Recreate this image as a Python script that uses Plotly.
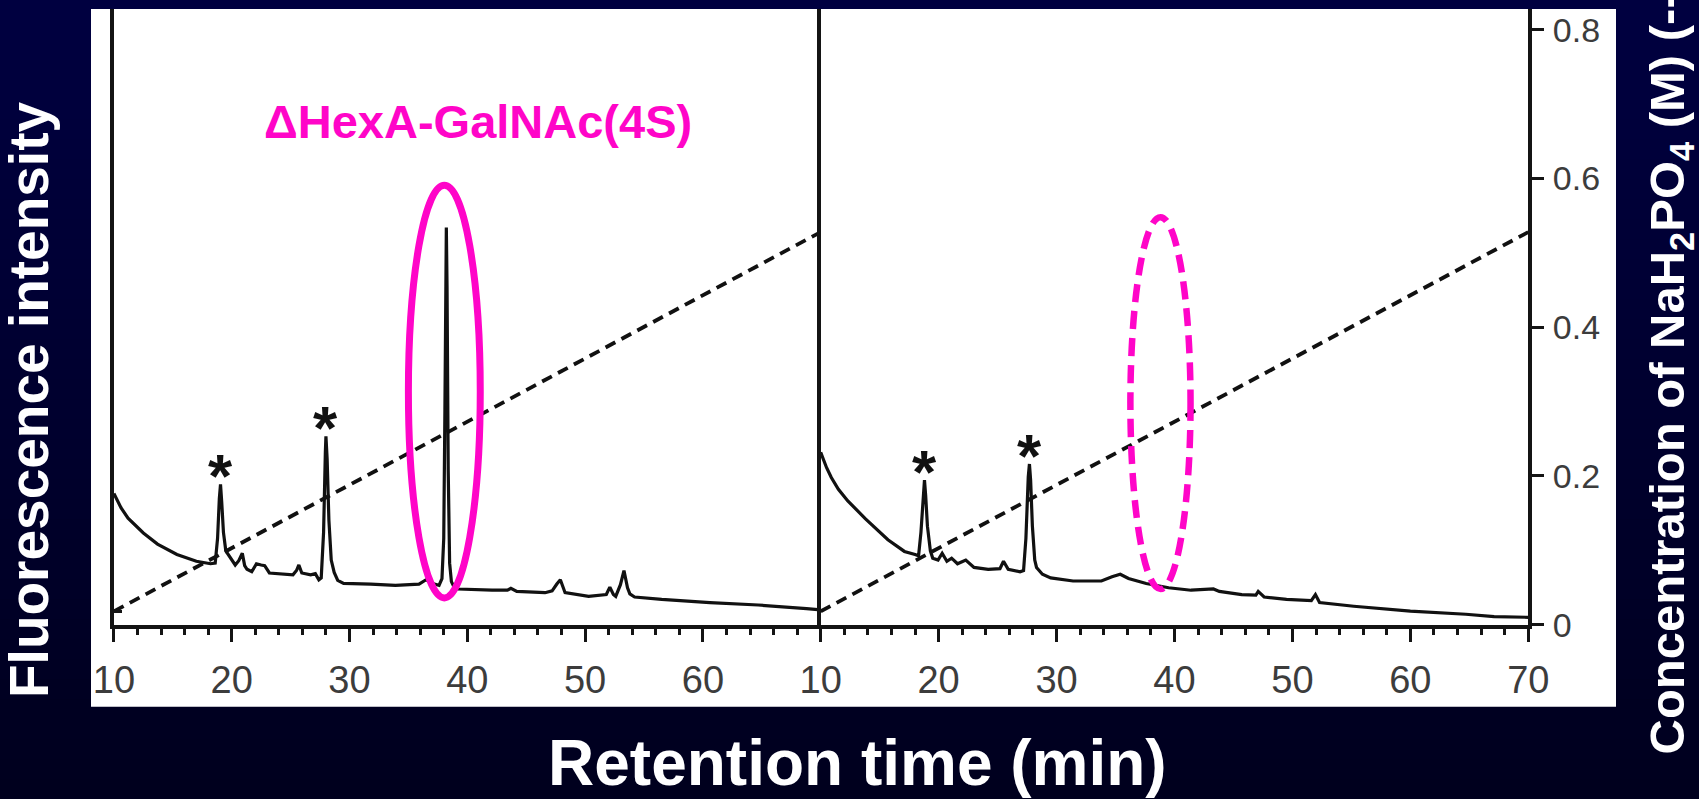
import plotly.graph_objects as go

# ---- chromatogram data: retention time (min) vs fluorescence (a.u.) ----
left_time = [10.0, 10.6, 11.2, 12.5, 13.7, 15.35, 17.0, 18.2, 18.6, 18.8, 18.95, 19.05,
             19.15, 19.3, 19.5, 19.9, 20.3, 20.6, 20.9, 21.1, 21.3, 21.7, 22.1, 22.5,
             22.8, 23.2, 24.4, 25.2, 25.5, 25.7, 25.95, 26.7, 27.1, 27.4, 27.6, 27.8,
             27.95, 28.0, 28.1, 28.25, 28.45, 28.7, 29.0, 29.5, 31.8, 33.9, 35.9, 36.5,
             37.2, 37.6, 37.85, 38.0, 38.1, 38.18, 38.22, 38.28, 38.38, 38.5, 38.65,
             38.9, 39.2, 42.1, 43.4, 43.7, 44.2, 46.6, 47.2, 47.6, 47.9, 48.3, 50.3,
             51.8, 52.1, 52.4, 52.6, 53.0, 53.3, 53.6, 53.8, 54.2, 56.5, 60.6, 64.7,
             68.8, 70.0]
left_signal = [21.3, 19.0, 17.3, 14.9, 13.1, 11.4, 10.3, 9.9, 10.0, 14.0, 20.5, 22.8,
               20.0, 15.0, 12.0, 10.8, 9.7, 10.4, 11.6, 9.6, 9.0, 8.6, 9.9, 9.7,
               9.6, 8.4, 8.2, 8.1, 8.8, 9.7, 8.4, 8.1, 8.3, 7.3, 7.6, 15.0,
               28.0, 30.6, 27.0, 17.0, 10.5, 8.5, 7.2, 6.7, 6.6, 6.4, 6.6, 7.3,
               6.6, 6.4, 7.5, 14.0, 35.0, 60.0, 64.5, 55.0, 25.0, 10.0, 7.0,
               6.0, 5.8, 5.6, 5.6, 5.9, 5.4, 5.2, 5.5, 6.6, 7.3, 5.2, 4.6,
               4.9, 6.1, 4.9, 4.6, 6.5, 8.8, 6.0, 5.0, 4.5, 4.1, 3.6, 3.2,
               2.6, 2.4]

right_time = [10.0, 10.5, 10.9, 11.5, 12.3, 13.8, 15.7, 17.1, 18.0, 18.3, 18.5, 18.7,
              18.8, 18.9, 19.05, 19.3, 19.5, 19.95, 20.3, 20.7, 21.1, 21.6, 22.3, 23.0,
              24.2, 25.2, 25.5, 25.9, 26.9, 27.2, 27.4, 27.6, 27.7, 27.8, 27.95, 28.15,
              28.3, 28.8, 29.5, 31.4, 33.8, 34.7, 35.4, 36.1, 37.6, 39.5, 41.4, 43.3,
              43.8, 45.7, 46.9, 47.1, 47.6, 49.5, 51.6, 51.95, 52.3, 55.2, 60.0, 64.7,
              67.1, 70.0]
right_signal = [28.0, 25.5, 23.9, 22.0, 20.1, 17.2, 13.8, 11.9, 11.4, 11.2, 15.0, 21.5,
                23.5, 21.0, 16.0, 12.0, 10.8, 10.5, 11.6, 10.3, 10.8, 9.9, 10.5, 9.3,
                9.0, 9.1, 10.3, 9.0, 8.6, 8.8, 14.0, 24.0, 26.1, 23.5, 16.0, 10.5,
                9.3, 8.2, 7.6, 7.1, 7.1, 7.8, 8.2, 7.5, 6.7, 6.0, 5.6, 5.8,
                5.4, 4.9, 4.8, 5.4, 4.5, 4.1, 3.9, 4.9, 3.6, 3.0, 2.2, 1.7,
                1.3, 1.2]

# ---- NaH2PO4 gradient (M) ----
gradient_time = [10, 70]
gradient_conc = [0.018, 0.528]

# ---- peaks flagged with an asterisk ----
left_star_times = [19.05, 28.0]
right_star_times = [18.8, 27.7]

# ---- tick labels ----
x_ticks_left = [10, 20, 30, 40, 50, 60]
x_ticks_right = [10, 20, 30, 40, 50, 60, 70]
conc_ticks = [0, 0.2, 0.4, 0.6, 0.8]
conc_tick_text = ["0", "0.2", "0.4", "0.6", "0.8"]

peak_label = "ΔHexA-GalNAc(4S)"
x_title = "Retention time (min)"
y_title_left = "Fluorescence intensity"
y_title_right = "Concentration of NaH<sub>2</sub>PO<sub>4</sub> (M) (---)"

# ---- styling / geometry (pixels of a 1699 x 799 canvas) ----
W, H = 1699, 799
FONT = "Liberation Sans, Arial, Helvetica, sans-serif"
AX = "#141414"
TICK = "#3c3c3c"
MAGENTA = "#ff05c8"


def fx(px):
    return px / W


def fy(py):
    return 1 - py / H


x_dom_left = [fx(113.9), fx(820.7)]
x_dom_right = [fx(820.7), fx(1528.3)]
y_dom = [fy(624.7), fy(9)]
SIGNAL_RANGE = [0, 100]
CONC_RANGE = [0, 0.828]
minor_vals = [v for v in range(12, 70, 2) if v % 10]

fig = go.Figure()

line_style = dict(color="#111111", width=3.2)
grad_style = dict(color="#111111", width=3.8, dash="11px,7px")

fig.add_trace(go.Scatter(x=left_time, y=left_signal, mode="lines", line=line_style,
                         xaxis="x", yaxis="y", hoverinfo="skip"))
fig.add_trace(go.Scatter(x=gradient_time, y=gradient_conc, mode="lines", line=grad_style,
                         xaxis="x", yaxis="y2", hoverinfo="skip"))
fig.add_trace(go.Scatter(x=right_time, y=right_signal, mode="lines", line=line_style,
                         xaxis="x2", yaxis="y3", hoverinfo="skip"))
fig.add_trace(go.Scatter(x=gradient_time, y=gradient_conc, mode="lines", line=grad_style,
                         xaxis="x2", yaxis="y4", hoverinfo="skip"))

# background: navy gradient plus the white figure panel
shapes = []
bands = 40
top_rgb, bot_rgb = (0, 0, 64), (0, 0, 30)
for i in range(bands):
    f = i / (bands - 1)
    col = "rgb(%d,%d,%d)" % tuple(round(a + (b - a) * f) for a, b in zip(top_rgb, bot_rgb))
    shapes.append(dict(type="rect", xref="paper", yref="paper", x0=0, x1=1,
                       y0=max(0, 1 - (i + 1) / bands - 0.003), y1=1 - i / bands,
                       fillcolor=col, line=dict(width=0), layer="below"))
shapes.append(dict(type="rect", xref="paper", yref="paper", x0=fx(91), x1=fx(1616),
                   y0=fy(706.7), y1=fy(9), fillcolor="white", line=dict(width=0),
                   layer="below"))

# highlight ellipses around the disaccharide elution window
shapes.append(dict(type="circle", xref="x", yref="y2", x0=35.0, x1=41.1, y0=0.036, y1=0.591,
                   line=dict(color=MAGENTA, width=7), layer="above"))
shapes.append(dict(type="circle", xref="x2", yref="y4", x0=36.26, x1=41.36, y0=0.048, y1=0.548,
                   line=dict(color=MAGENTA, width=6.5, dash="18px,9px"), layer="above"))

annotations = []


def apex(times, signal, t0):
    return max(s for t, s in zip(times, signal) if abs(t - t0) <= 0.3)


star_font = dict(family=FONT, size=62, color="#111111", weight="bold")
for t in left_star_times:
    annotations.append(dict(x=t, y=apex(left_time, left_signal, t), xref="x", yref="y",
                            text="*", showarrow=False, xanchor="center", yanchor="bottom",
                            yshift=-28, font=star_font))
for t in right_star_times:
    annotations.append(dict(x=t, y=apex(right_time, right_signal, t), xref="x2", yref="y3",
                            text="*", showarrow=False, xanchor="center", yanchor="bottom",
                            yshift=-28, font=star_font))

annotations.append(dict(x=fx(478), y=fy(121.5), xref="paper", yref="paper", text=peak_label,
                        showarrow=False, xanchor="center", yanchor="middle",
                        font=dict(family=FONT, size=47, color=MAGENTA, weight="bold")))
annotations.append(dict(x=fx(857), y=fy(763), xref="paper", yref="paper", text=x_title,
                        showarrow=False, xanchor="center", yanchor="middle",
                        font=dict(family=FONT, size=64, color="white", weight="bold")))
annotations.append(dict(x=fx(29), y=fy(400), xref="paper", yref="paper", text=y_title_left,
                        showarrow=False, xanchor="center", yanchor="middle", textangle=-90,
                        font=dict(family=FONT, size=55, color="white", weight="bold")))
annotations.append(dict(x=fx(1670), y=fy(757), xref="paper", yref="paper",
                        text=y_title_right, showarrow=False, xanchor="center",
                        yanchor="bottom", textangle=-90,
                        font=dict(family=FONT, size=49, color="white", weight="bold")))

x_common = dict(range=[10, 70], showline=True, linewidth=3.5, linecolor=AX,
                ticks="outside", ticklen=14, tickwidth=3, tickcolor=AX,
                tickfont=dict(family=FONT, size=38, color=TICK), ticklabelstandoff=5,
                minor=dict(tickvals=minor_vals, ticks="outside", ticklen=7, tickwidth=3,
                           tickcolor=AX),
                showgrid=False, zeroline=False, fixedrange=True, automargin=False)

fig.update_layout(
    width=W, height=H, autosize=False,
    margin=dict(l=0, r=0, t=0, b=0, pad=0),
    paper_bgcolor="rgb(0,0,30)", plot_bgcolor="rgba(0,0,0,0)",
    showlegend=False,
    shapes=shapes, annotations=annotations,
    xaxis=dict(domain=x_dom_left, anchor="y", tickvals=x_ticks_left,
               ticktext=[str(v) for v in x_ticks_left], **x_common),
    xaxis2=dict(domain=x_dom_right, anchor="y3", tickvals=x_ticks_right,
                ticktext=[str(v) for v in x_ticks_right], **x_common),
    yaxis=dict(domain=y_dom, range=SIGNAL_RANGE, anchor="x", showline=True, linewidth=3.5,
               linecolor=AX, ticks="inside", tickvals=[2.1], ticklen=8, tickwidth=3,
               tickcolor=AX, showticklabels=False, showgrid=False, zeroline=False,
               fixedrange=True, automargin=False),
    yaxis2=dict(range=CONC_RANGE, overlaying="y", anchor="x", visible=False,
                fixedrange=True, automargin=False),
    yaxis3=dict(domain=y_dom, range=SIGNAL_RANGE, anchor="x2", showline=True,
                linewidth=3.5, linecolor=AX, ticks="", showticklabels=False,
                showgrid=False, zeroline=False, fixedrange=True, automargin=False),
    yaxis4=dict(range=CONC_RANGE, overlaying="y3", anchor="x2", side="right",
                showline=True, linewidth=3.5, linecolor=AX, ticks="outside", ticklen=12,
                tickwidth=3, tickcolor=AX, tickvals=conc_ticks, ticktext=conc_tick_text,
                tickfont=dict(family=FONT, size=34, color=TICK), ticklabelstandoff=2,
                showgrid=False, zeroline=False, fixedrange=True, automargin=False),
)

fig.write_html("out.html", config={"displayModeBar": False})
